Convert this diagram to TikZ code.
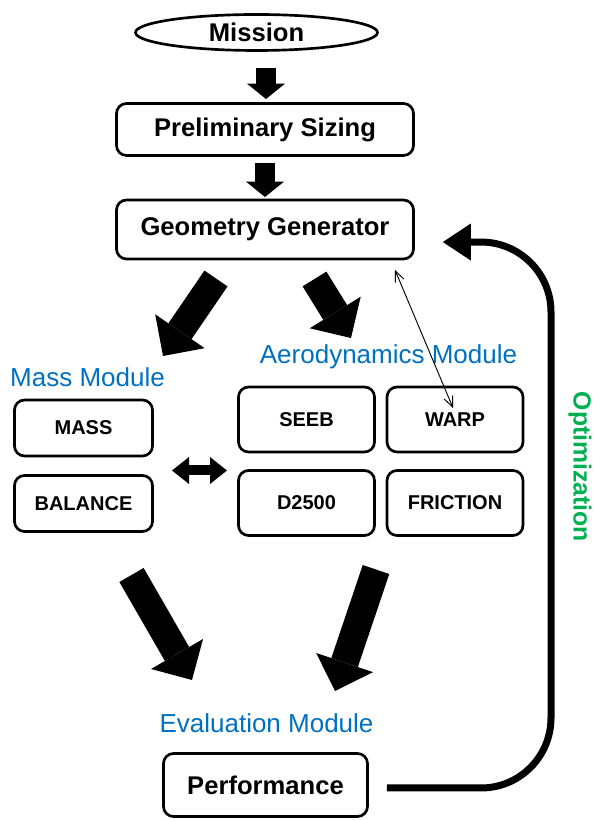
\documentclass[tikz,border=0pt]{standalone}
\usepackage{fontspec}
\setmainfont{Liberation Sans}
\usepackage{tikz}
\usetikzlibrary{arrows.meta,positioning,shapes.geometric}
\definecolor{modblue}{RGB}{0,112,192}
\definecolor{optgreen}{RGB}{0,176,80}

\begin{document}
\begin{tikzpicture}[x=0.75pt, y=0.75pt,
  stepbox/.style={draw, line width=2pt, rounded corners=7.5pt, inner sep=0pt,
    minimum width=222.75pt, font=\bfseries\fontsize{19.2}{22}\selectfont},
  modbox/.style={stepbox, minimum width=103.5pt, minimum height=42pt,
    font=\bfseries\fontsize{15}{17}\selectfont},
  aerobox/.style={modbox, minimum width=102pt, minimum height=48.75pt},
  modlabel/.style={text=modblue, inner sep=0pt, font=\fontsize{19.5}{23}\selectfont},
  fatarrow/.style={line width=21pt, -{Triangle[length=22.5pt, width=45pt, line width=0pt]}},
  downarrow/.style={line width=15pt, -{Triangle[length=11.5pt, width=28.5pt, line width=0pt]}}]
\useasboundingbox (0,0) rectangle (593,821);
% Top of the chain
\node[draw, ellipse, line width=2pt, inner sep=0pt, minimum width=181.5pt, minimum height=27pt,
  font=\bfseries\fontsize{19.2}{22}\selectfont] (mission) at (256.5,788.5) {Mission};
\node[stepbox, minimum height=39pt] (sizing) at (265,691.5) {Preliminary Sizing};
\node[stepbox, minimum height=44.25pt] (geo) at (265,591.5) {Geometry Generator};
% Mass module
\node[modlabel] (masslbl) at (87.5,444) {Mass Module};
\node[modbox] (mass) at (83.5,393) {MASS};
\node[modbox] (balance) at (83.5,317.5) {BALANCE};
% Aerodynamics module
\node[modlabel] (aerolbl) at (388.5,464) {Aerodynamics Module};
\node[aerobox] (seeb) at (306.5,401.5) {SEEB};
\node[aerobox] (warp) at (455,401.5) {WARP};
\node[aerobox] (d2500) at (306.5,318) {D2500};
\node[aerobox] (friction) at (455,318) {FRICTION};
% Evaluation
\node[modlabel] (evallbl) at (266.5,98) {Evaluation Module};
\node[stepbox, minimum width=153pt, minimum height=47.25pt] (perf) at (265.5,36) {Performance};
\node[text=optgreen, rotate=-90, inner sep=0pt, font=\bfseries\fontsize{18.6}{22}\selectfont]
  (optlbl) at (580,354) {Optimization};
% Arrow ends
\coordinate (m1) at (266,753);   \coordinate (m2) at (266,722);
\coordinate (s1) at (265,658);   \coordinate (s2) at (265,624);
\coordinate (g1) at (216,542.5); \coordinate (g2) at (163,465);
\coordinate (g3) at (314.5,542); \coordinate (g4) at (351,483);
\coordinate (e1) at (131.5,246); \coordinate (e2) at (192,141);
\coordinate (e3) at (376,251.5); \coordinate (e4) at (335,130);
\coordinate (x1) at (172,350.5); \coordinate (x2) at (227,350.5);
\coordinate (w1) at (395,551);   \coordinate (w2) at (453,413);
\coordinate (optx) at (551,300);
% Arrows
\draw[downarrow] (m1) -- (m2);
\draw[downarrow] (s1) -- (s2);
\draw[fatarrow] (g1) -- (g2);
\draw[fatarrow] (g3) -- (g4);
\draw[fatarrow] (e1) -- (e2);
\draw[fatarrow] (e3) -- (e4);
\draw[line width=7.5pt, {Triangle[length=12.75pt, width=20.25pt, line width=0pt]}-{Triangle[length=12.75pt, width=20.25pt, line width=0pt]}] (x1) -- (x2);
\draw[line width=0.7pt, {Straight Barb[length=8pt, width=7pt]}-{Straight Barb[length=8pt, width=7pt]}] (w1) -- (w2);
% Optimization loop
\draw[line width=5.25pt, rounded corners=52.5pt, -{Triangle[length=21pt, width=27.75pt, line width=0pt]}]
  ([xshift=13.5pt, yshift=-2.25pt]perf.east) -| (optx) |- ([xshift=21pt, yshift=-9.4pt]geo.east);
\end{tikzpicture}
\end{document}
